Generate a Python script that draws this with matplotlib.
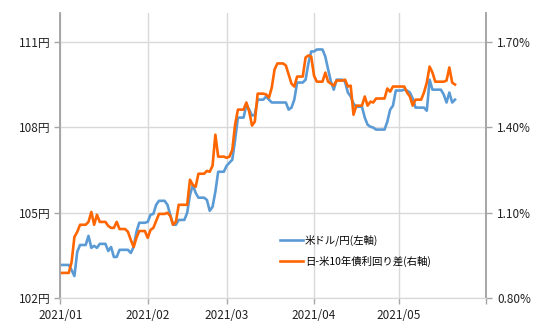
import matplotlib
matplotlib.use("Agg")
import matplotlib.pyplot as plt
import pandas as pd

plt.rcParams['font.family'] = ['Noto Sans CJK JP', 'DejaVu Sans']

# business days, Jan 1 - May 21 2021 (weekends carry the Friday value)
days = [
    "2021-01-01", "2021-01-04", "2021-01-05", "2021-01-06", "2021-01-07", "2021-01-08",
    "2021-01-11", "2021-01-12", "2021-01-13", "2021-01-14", "2021-01-15",
    "2021-01-18", "2021-01-19", "2021-01-20", "2021-01-21", "2021-01-22",
    "2021-01-25", "2021-01-26", "2021-01-27", "2021-01-28", "2021-01-29",
    "2021-02-01", "2021-02-02", "2021-02-03", "2021-02-04", "2021-02-05",
    "2021-02-08", "2021-02-09", "2021-02-10", "2021-02-11", "2021-02-12",
    "2021-02-15", "2021-02-16", "2021-02-17", "2021-02-18", "2021-02-19",
    "2021-02-22", "2021-02-23", "2021-02-24", "2021-02-25", "2021-02-26",
    "2021-03-01", "2021-03-02", "2021-03-03", "2021-03-04", "2021-03-05",
    "2021-03-08", "2021-03-09", "2021-03-10", "2021-03-11", "2021-03-12",
    "2021-03-15", "2021-03-16", "2021-03-17", "2021-03-18", "2021-03-19",
    "2021-03-22", "2021-03-23", "2021-03-24", "2021-03-25", "2021-03-26",
    "2021-03-29", "2021-03-30", "2021-03-31", "2021-04-01", "2021-04-02",
    "2021-04-05", "2021-04-06", "2021-04-07", "2021-04-08", "2021-04-09",
    "2021-04-12", "2021-04-13", "2021-04-14", "2021-04-15", "2021-04-16",
    "2021-04-19", "2021-04-20", "2021-04-21", "2021-04-22", "2021-04-23",
    "2021-04-26", "2021-04-27", "2021-04-28", "2021-04-29", "2021-04-30",
    "2021-05-03", "2021-05-04", "2021-05-05", "2021-05-06", "2021-05-07",
    "2021-05-10", "2021-05-11", "2021-05-12", "2021-05-13", "2021-05-14",
    "2021-05-17", "2021-05-18", "2021-05-19", "2021-05-20", "2021-05-21",
]

usdjpy = [
    103.16, 103.16, 102.98, 102.77, 103.62, 103.86,
    104.18, 103.76, 103.83, 103.76, 103.90,
    103.65, 103.79, 103.44, 103.44, 103.69,
    103.69, 103.58, 103.79, 104.32, 104.64,
    104.67, 104.92, 104.95, 105.27, 105.41,
    105.27, 104.92, 104.57, 104.57, 104.74,
    104.99, 105.62, 105.97, 105.69, 105.52,
    105.44, 105.06, 105.20, 105.73, 106.43,
    106.64, 106.75, 106.85, 107.55, 108.33,
    108.78, 108.61, 108.40, 108.43, 108.96,
    109.07, 108.96, 108.86, 108.86, 108.86,
    108.86, 108.61, 108.68, 108.96, 109.56,
    109.66, 110.23, 110.65, 110.65, 110.72,
    110.47, 110.02, 109.59, 109.31, 109.66,
    109.59, 109.21, 109.07, 108.82, 108.71,
    108.33, 108.08, 108.01, 107.98, 107.91,
    107.91, 108.19, 108.61, 108.75, 109.28,
    109.31, 109.28, 109.21, 109.00, 108.68,
    108.68, 108.57, 109.66, 109.31, 109.31,
    109.14, 108.86, 109.21, 108.86, 108.96,
]

spread = [
    0.888, 0.888, 0.926, 1.014, 1.032, 1.057,
    1.067, 1.102, 1.057, 1.092, 1.067,
    1.053, 1.046, 1.046, 1.067, 1.042,
    1.032, 1.004, 0.979, 1.011, 1.035,
    1.011, 1.039, 1.046, 1.070, 1.095,
    1.099, 1.088, 1.057, 1.067, 1.127,
    1.127, 1.215, 1.197, 1.190, 1.236,
    1.246, 1.243, 1.264, 1.373, 1.296,
    1.292, 1.296, 1.320, 1.408, 1.461,
    1.486, 1.454, 1.405, 1.419, 1.517,
    1.514, 1.503, 1.538, 1.602, 1.623,
    1.616, 1.584, 1.552, 1.542, 1.577,
    1.644, 1.651, 1.647, 1.580, 1.559,
    1.591, 1.559, 1.552, 1.545, 1.563,
    1.566, 1.542, 1.545, 1.443, 1.475,
    1.507, 1.475, 1.489, 1.486, 1.500,
    1.500, 1.535, 1.524, 1.542, 1.542,
    1.542, 1.521, 1.507, 1.475, 1.496,
    1.521, 1.556, 1.612, 1.591, 1.559,
    1.559, 1.563, 1.609, 1.556, 1.549,
]

left_ticks = [102, 105, 108, 111]
left_labels = ["102円", "105円", "108円", "111円"]
right_ticks = [0.8, 1.1, 1.4, 1.7]
right_labels = ["0.80%", "1.10%", "1.40%", "1.70%"]
month_ticks = ["2021-01-01", "2021-02-01", "2021-03-01", "2021-04-01", "2021-05-01", "2021-06-01"]
month_labels = ["2021/01", "2021/02", "2021/03", "2021/04", "2021/05", ""]

idx = pd.to_datetime(days)
cal = pd.date_range(idx[0], idx[-1], freq="D")
s_fx = pd.Series(usdjpy, index=idx).reindex(cal).ffill()
s_sp = pd.Series(spread, index=idx).reindex(cal).ffill()

blue = "#5B9BD5"
orange = "#FF6600"
grid_c = "#D9D9D9"
axis_c = "#A6A6A6"

fig = plt.figure(figsize=(5.4, 3.31), dpi=100)
ax = fig.add_axes([0.1117, 0.0997, 0.9 - 0.1117, 0.9607 - 0.0997])
ax2 = ax.twinx()

l1, = ax.plot(s_fx.index, s_fx.values, color=blue, lw=1.9, label="米ドル/円(左軸)")
l2, = ax2.plot(s_sp.index, s_sp.values, color=orange, lw=1.9, label="日-米10年債利回り差(右軸)")

ax.set_xlim(pd.Timestamp("2021-01-01"), pd.Timestamp("2021-06-01"))
ax.set_ylim(102, 112)
ax2.set_ylim(0.8, 1.8)

ax.set_yticks(left_ticks)
ax.set_yticklabels(left_labels)
ax2.set_yticks(right_ticks)
ax2.set_yticklabels(right_labels)
ax.set_xticks(pd.to_datetime(month_ticks))
ax.set_xticklabels(month_labels)

ax.grid(True, color=grid_c, lw=1.0)
ax.set_axisbelow(True)

for a in (ax, ax2):
    a.spines["top"].set_visible(False)
    a.spines["bottom"].set_color(grid_c)
    a.spines["left"].set_color(axis_c)
    a.spines["right"].set_color(axis_c)
    a.spines["left"].set_linewidth(1.2)
    a.spines["right"].set_linewidth(1.2)
    a.tick_params(colors="#222222", labelsize=8.5, length=4, color=axis_c, width=1.0)

ax.tick_params(axis="y", pad=3)
ax.tick_params(axis="x", pad=4)
ax2.tick_params(axis="y", pad=4)

fig.legend(handles=[l1, l2], loc="upper left", bbox_to_anchor=(0.519, 0.291),
           frameon=False, fontsize=7.5, handlelength=2.2, handletextpad=0.15,
           labelspacing=0.9, borderpad=0, borderaxespad=0)

fig.savefig("out.png", dpi=100)
